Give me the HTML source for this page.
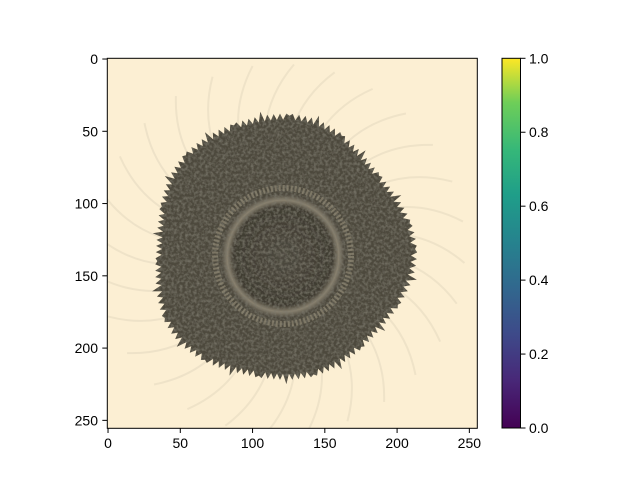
<!DOCTYPE html>
<html>
<head>
<meta charset="utf-8">
<style>
  html, body { margin: 0; padding: 0; background: #ffffff; width: 640px; height: 480px; overflow: hidden; }
  svg { display: block; font-family: "Liberation Sans", "DejaVu Sans", sans-serif; }
</style>
</head>
<body>
<svg id="chart" width="640" height="480" viewBox="0 0 640 480">
  <defs>
    <linearGradient id="viridis" x1="0" y1="1" x2="0" y2="0">
      <stop offset="0" stop-color="#440154"/>
      <stop offset="0.13" stop-color="#482878"/>
      <stop offset="0.25" stop-color="#3e4989"/>
      <stop offset="0.38" stop-color="#31688e"/>
      <stop offset="0.5" stop-color="#26828e"/>
      <stop offset="0.63" stop-color="#1f9e89"/>
      <stop offset="0.75" stop-color="#35b779"/>
      <stop offset="0.88" stop-color="#6ece58"/>
      <stop offset="1" stop-color="#fde725"/>
    </linearGradient>
    <filter id="tex" x="0" y="0" width="100%" height="100%">
      <feTurbulence type="fractalNoise" baseFrequency="0.35" numOctaves="2" seed="3" result="n"/>
      <feColorMatrix in="n" type="matrix" values="0 0 0 0 0.2  0 0 0 0 0.19  0 0 0 0 0.15  0 0 0 1.6 -0.6" result="dots"/>
      <feComposite in="dots" in2="SourceGraphic" operator="in" result="d2"/>
      <feMerge><feMergeNode in="SourceGraphic"/><feMergeNode in="d2"/></feMerge>
    </filter>
    <radialGradient id="discGrad" cx="0.5" cy="0.5" r="0.5">
      <stop offset="0" stop-color="#4e4a40"/>
      <stop offset="0.8" stop-color="#3f3b31"/>
      <stop offset="0.9" stop-color="#8a8270"/>
      <stop offset="1" stop-color="#4a463c"/>
    </radialGradient>
    <clipPath id="imgClip"><rect x="107.3" y="58.3" width="370" height="370"/></clipPath>
  </defs>
  <g id="image" clip-path="url(#imgClip)">
    <rect x="107.3" y="58.3" width="370" height="370" fill="#fcefd3"/>
    <g id="petals" stroke="#e6dbc2" stroke-width="2" fill="none" opacity="0.6"></g>
    <polygon id="head" fill="#4d483c" filter="url(#tex)"/>
    <circle cx="283" cy="256" r="68" fill="none" stroke="#8f8773" stroke-width="6" stroke-dasharray="2 2" opacity="0.7"/>
    <circle cx="283" cy="256" r="62" fill="url(#discGrad)" filter="url(#tex)"/>
  </g>
  <rect x="107.3" y="58.3" width="370" height="370" fill="none" stroke="#000" stroke-width="1"/>
  <g id="xticks"></g>
  <g id="yticks"></g>
  <rect x="502" y="58.3" width="18.5" height="369.7" fill="url(#viridis)" stroke="#000" stroke-width="1"/>
  <g id="cticks"></g>
</svg>
<script>
const xTicks = [0, 50, 100, 150, 200, 250];
const yTicks = [0, 50, 100, 150, 200, 250];
const cTicks = [0.0, 0.2, 0.4, 0.6, 0.8, 1.0];
const imgSize = 256;

const NS = 'http://www.w3.org/2000/svg';
const imgLeft = 107.3, imgTop = 58.3, imgPx = 370;
const sx = v => imgLeft + (v + 0.5) * imgPx / imgSize;
const sy = v => imgTop + (v + 0.5) * imgPx / imgSize;
const cbY = v => 428 - v * 369.7;

function mk(tag, attrs, parent) {
  const e = document.createElementNS(NS, tag);
  for (const k in attrs) e.setAttribute(k, attrs[k]);
  parent.appendChild(e);
  return e;
}
const xg = document.getElementById('xticks');
xTicks.forEach(t => {
  const l = mk('line', {x1: sx(t), x2: sx(t), y1: 428, y2: 433, stroke: '#000'}, xg);
  
  
  const tx = mk('text', {x: sx(t), y: 448, 'font-size': 14, 'text-anchor': 'middle'}, xg);
  tx.textContent = t;
  
  
});
const yg = document.getElementById('yticks');
yTicks.forEach(t => {
  const l = mk('line', {x1: 102.3, x2: 107.3, y1: sy(t), y2: sy(t), stroke: '#000'}, yg);
  
  
  const tx = mk('text', {x: 98, y: sy(t) + 5, 'font-size': 14, 'text-anchor': 'end'}, yg);
  tx.textContent = t;
  
  
});
const cg = document.getElementById('cticks');
cTicks.forEach(t => {
  const l = mk('line', {x1: 520.5, x2: 525.5, y1: cbY(t), y2: cbY(t), stroke: '#000'}, cg);
  
  
  const tx = mk('text', {x: 529, y: cbY(t) + 5, 'font-size': 14}, cg);
  tx.textContent = t.toFixed(1);
  
  
});

// decorative flower head outline
const fcx = 280, fcy = 249;
const pts = [];
for (let i = 0; i < 260; i++) {
  const a = i / 260 * Math.PI * 2;
  const r = 124 + 4 * Math.sin(3 * a + 1) + 3 * Math.cos(5 * a) + (i % 2 ? 4 : -2) + (i % 9 === 0 ? 4 : 0);
  pts.push((fcx + r * Math.cos(a) * 1.02).toFixed(1) + ',' + (fcy + r * Math.sin(a) * 1.04).toFixed(1));
}
document.getElementById('head').setAttribute('points', pts.join(' '));

const pg = document.getElementById('petals');
for (let i = 0; i < 28; i++) {
  const a = i / 28 * Math.PI * 2 + 0.1;
  const r1 = 120, r2 = 185;
  const x1 = fcx + r1 * Math.cos(a), y1 = fcy + r1 * Math.sin(a);
  const x2 = fcx + r2 * Math.cos(a + 0.2), y2 = fcy + r2 * Math.sin(a + 0.2);
  const qx = fcx + 155 * Math.cos(a + 0.05), qy = fcy + 155 * Math.sin(a + 0.05);
  const p = mk('path', {d: `M${x1},${y1} Q${qx},${qy} ${x2},${y2}`}, pg);
  
  
}
</script>
</body>
</html>
